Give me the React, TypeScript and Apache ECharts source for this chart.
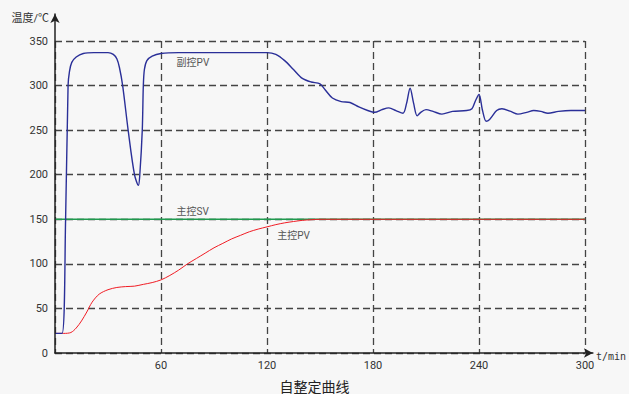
import React, { useEffect, useRef } from "react";
import * as echarts from "echarts";

const xTicks = [0, 60, 120, 180, 240, 300];
const yTicks = [0, 50, 100, 150, 200, 250, 300, 350];

// 副控PV (t/min, ℃)
const subPV: [number, number][] = [
  [0, 22], [4, 22], [6, 150], [7.4, 300], [8.2, 316], [9.5, 326], [12, 332], [16, 336], [22, 337],
  [30, 337], [33, 335], [35, 330], [36.5, 320], [38.3, 300], [41.4, 250], [45, 200], [47.2, 188],
  [48, 200], [49.4, 250], [50, 300], [50.6, 318], [52, 328], [55, 333], [60, 336], [70, 337],
  [120, 337], [125, 335], [130, 328], [135, 318], [140, 308], [145, 304], [150, 302], [153, 295],
  [157, 286], [162, 282], [167, 281], [172, 276], [177, 272], [181, 270], [185, 273], [189, 275],
  [193, 272], [197, 269], [199, 280], [201, 297], [203, 280], [205, 266], [207, 270], [210, 273],
  [214, 271], [219, 268], [225, 271], [233, 272], [236, 274], [238, 283], [240, 290], [242, 272],
  [244, 260], [246, 262], [250, 272], [253, 274], [258, 271], [262, 268], [267, 270], [271, 272],
  [275, 271], [279, 269], [285, 271], [292, 272], [300, 272],
];

// 主控PV
const mainPV: [number, number][] = [
  [0, 22], [5, 22], [9, 23], [12, 28], [15, 36], [18, 46], [21, 57], [25, 66], [30, 71], [35, 73.5],
  [40, 74.5], [45, 75], [50, 77], [55, 79], [60, 82], [65, 87], [70, 93], [75, 100], [80, 106],
  [85, 112], [90, 118], [95, 123], [100, 128], [105, 132], [110, 136], [115, 139], [120, 141.5],
  [125, 144], [130, 146], [135, 147.5], [140, 148.8], [145, 149.5], [150, 150], [300, 150],
];

// 主控SV
const mainSV: [number, number][] = [[0, 150], [300, 150]];

const labelSubPV: [number, number] = [66, 326];
const labelMainSV: [number, number] = [66, 159];
const labelMainPV: [number, number] = [123, 132];

const FONT = 'Roboto, "Noto Sans CJK SC", sans-serif';

function tag(coord: [number, number], text: string) {
  return {
    silent: true,
    symbol: "circle",
    symbolSize: 0,
    data: [
      {
        coord,
        label: {
          show: true,
          position: "right",
          formatter: text,
          color: "#555",
          fontSize: 10,
          fontFamily: FONT,
        },
      },
    ],
  };
}

export default function App() {
  const ref = useRef<HTMLDivElement>(null);
  useEffect(() => {
    const chart = echarts.init(ref.current!, null, { renderer: "svg" });
    const dash = { color: "#444", width: 1.3, type: [7, 4] as any };
    chart.setOption({
      animation: false,
      backgroundColor: "#f7f7f7",
      textStyle: { fontFamily: FONT },
      title: {
        text: "自整定曲线",
        left: "center",
        top: 375,
        textStyle: { fontSize: 14, fontWeight: "normal", color: "#222", fontFamily: FONT },
      },
      grid: [
        { left: 55, top: 41, right: 44, bottom: 41 },
        { left: 55, top: 14, right: 32, bottom: 41 },
      ],
      xAxis: [
        {
          type: "value",
          gridIndex: 0,
          min: 0,
          max: 300,
          interval: 60,
          axisLine: { show: false },
          axisTick: { show: false },
          splitLine: { show: true, lineStyle: dash },
          axisLabel: {
            showMinLabel: false,
            color: "#333",
            fontSize: 11,
            margin: 7,
            formatter: (v: number) => (xTicks.includes(v) ? String(v) : ""),
          },
        },
        {
          type: "value",
          gridIndex: 1,
          min: 0,
          max: 1,
          z: 5,
          axisLine: {
            show: true,
            symbol: ["none", "arrow"],
            symbolSize: [7, 9],
            lineStyle: { color: "#222", width: 1.5 },
          },
          axisTick: { show: false },
          axisLabel: { show: false },
          splitLine: { show: false },
          name: "t/min",
          nameLocation: "end",
          nameGap: 3,
          nameTextStyle: {
            fontFamily: '"DejaVu Sans Mono", monospace',
            fontSize: 10,
            color: "#333",
            verticalAlign: "top",
            padding: [-2, 0, 0, 0],
          },
        },
      ],
      yAxis: [
        {
          type: "value",
          gridIndex: 0,
          min: 0,
          max: 350,
          interval: 50,
          axisLine: { show: false },
          axisTick: { show: false },
          splitLine: { show: true, lineStyle: dash },
          axisLabel: {
            color: "#333",
            fontSize: 11,
            margin: 7,
            formatter: (v: number) => (yTicks.includes(v) ? String(v) : ""),
          },
        },
        {
          type: "value",
          gridIndex: 1,
          min: 0,
          max: 1,
          z: 5,
          axisLine: {
            show: true,
            symbol: ["none", "arrow"],
            symbolSize: [7, 9],
            lineStyle: { color: "#222", width: 1.5 },
          },
          axisTick: { show: false },
          axisLabel: { show: false },
          splitLine: { show: false },
          name: "温度/℃",
          nameLocation: "end",
          nameGap: -4,
          nameTextStyle: {
            fontFamily: FONT,
            fontSize: 11,
            color: "#333",
            align: "right",
            verticalAlign: "middle",
            padding: [0, 6, 0, 0],
          },
        },
      ],
      series: [
        {
          type: "line",
          name: "主控SV",
          xAxisIndex: 0,
          yAxisIndex: 0,
          data: mainSV,
          showSymbol: false,
          lineStyle: { color: "#1f9a4e", width: 1.5 },
          markPoint: tag(labelMainSV, "主控SV"),
        },
        {
          type: "line",
          name: "主控PV",
          xAxisIndex: 0,
          yAxisIndex: 0,
          data: mainPV,
          showSymbol: false,
          smooth: 0.3,
          lineStyle: { color: "#f01c24", width: 1 },
          markPoint: tag(labelMainPV, "主控PV"),
        },
        {
          type: "line",
          name: "副控PV",
          xAxisIndex: 0,
          yAxisIndex: 0,
          data: subPV,
          showSymbol: false,
          smooth: 0.3,
          lineStyle: { color: "#2a2f98", width: 1.4 },
          markPoint: tag(labelSubPV, "副控PV"),
        },
      ],
    });
    return () => chart.dispose();
  }, []);
  return (
    <div
      ref={ref}
      style={{ position: "fixed", left: 0, top: 0, width: 629, height: 394 }}
    />
  );
}
